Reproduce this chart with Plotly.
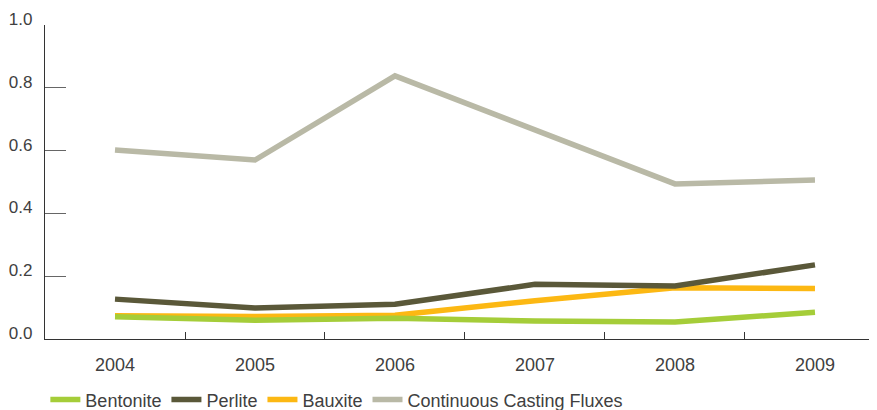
import plotly.graph_objects as go

years = ["2004", "2005", "2006", "2007", "2008", "2009"]
bentonite = [0.071, 0.060, 0.066, 0.057, 0.054, 0.085]
perlite = [0.127, 0.099, 0.111, 0.174, 0.169, 0.236]
bauxite = [0.074, 0.072, 0.076, 0.122, 0.163, 0.161]
ccf = [0.602, 0.570, 0.838, 0.666, 0.494, 0.506]

series = [
    ("Continuous Casting Fluxes", ccf, "#b9b9a6", 4),
    ("Bauxite", bauxite, "#fcb813", 3),
    ("Perlite", perlite, "#5a5839", 2),
    ("Bentonite", bentonite, "#a5cd39", 1),
]

FONT = "Liberation Sans, Arial, sans-serif"
TXT = "#404040"

# page body has an 8px default margin, so the figure is sized 8px smaller
fig = go.Figure()
for name, vals, color, rank in series:
    fig.add_trace(go.Scatter(
        x=years, y=vals, name=name, mode="lines",
        line=dict(color=color, width=5.5),
        legendrank=rank,
    ))

fig.update_layout(
    width=869, height=402,
    margin=dict(l=37, r=0, t=17, b=71, autoexpand=False),
    paper_bgcolor="white", plot_bgcolor="white",
    font=dict(family=FONT, size=17, color=TXT),
    showlegend=True,
    legend=dict(
        orientation="h", xref="container", yref="paper",
        x=0.043, xanchor="left", y=-0.194, yanchor="middle",
        font=dict(size=18, color=TXT),
        itemwidth=30, tracegroupgap=0,
        bgcolor="rgba(0,0,0,0)",
    ),
    xaxis=dict(
        type="category", range=[-0.5, 5.443], automargin=False,
        tickson="boundaries", ticks="inside", ticklen=7,
        tickcolor="#333333", tickwidth=1,
        showline=True, linecolor="#333333", linewidth=1.2,
        showgrid=False, zeroline=False,
        ticklabelstandoff=9,
        tickfont=dict(size=18, color=TXT),
    ),
    yaxis=dict(
        range=[0, 1], dtick=0.2, tick0=0, tickformat=".1f", automargin=False,
        ticks="inside", ticklen=21, tickcolor="#666666", tickwidth=1,
        showline=True, linecolor="#333333", linewidth=1.2,
        showgrid=False, zeroline=False,
        ticklabelstandoff=8, ticklabelshift=-6,
        tickfont=dict(size=17, color=TXT),
    ),
)

fig.write_html("out.html")
